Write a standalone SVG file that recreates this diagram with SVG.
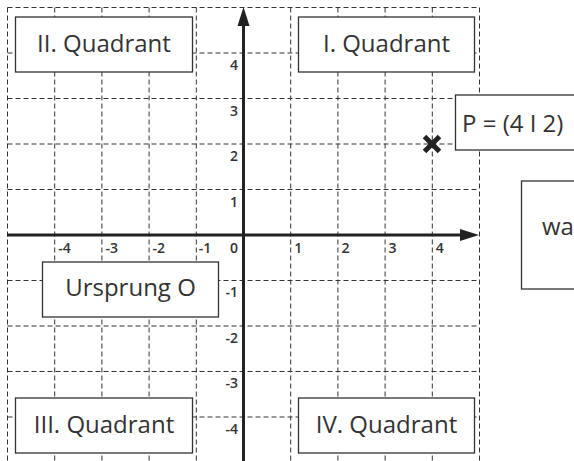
<svg xmlns="http://www.w3.org/2000/svg" width="574" height="461" viewBox="0 0 574 461">
<style>
.grid line{stroke:#333;stroke-width:1;stroke-dasharray:5,3;fill:none}
.box{fill:#fff;stroke:#333;stroke-width:1.3}
.lbl{font-family:"Open Sans","Liberation Sans",sans-serif;font-size:24px;fill:#333}
.mid{text-anchor:middle}
.tick{font-family:"Open Sans","Liberation Sans",sans-serif;font-size:14px;font-weight:600;fill:#333}
.axis{stroke:#222;stroke-width:3;fill:none}
.head{fill:#222}
</style>
<rect width="574" height="461" fill="#fff"/>
<g class="grid" id="grid">
<line x1="7.5" y1="7.5" x2="7.5" y2="461"/>
<line x1="54.7" y1="7.5" x2="54.7" y2="461"/>
<line x1="101.9" y1="7.5" x2="101.9" y2="461"/>
<line x1="149.1" y1="7.5" x2="149.1" y2="461"/>
<line x1="196.3" y1="7.5" x2="196.3" y2="461"/>
<line x1="290.7" y1="7.5" x2="290.7" y2="461"/>
<line x1="337.9" y1="7.5" x2="337.9" y2="461"/>
<line x1="385.1" y1="7.5" x2="385.1" y2="461"/>
<line x1="432.3" y1="7.5" x2="432.3" y2="461"/>
<line x1="479.5" y1="7.5" x2="479.5" y2="461"/>
<line x1="7.5" y1="7.5" x2="479.5" y2="7.5"/>
<line x1="7.5" y1="53" x2="479.5" y2="53"/>
<line x1="7.5" y1="98.5" x2="479.5" y2="98.5"/>
<line x1="7.5" y1="144" x2="479.5" y2="144"/>
<line x1="7.5" y1="189.5" x2="479.5" y2="189.5"/>
<line x1="7.5" y1="280.5" x2="479.5" y2="280.5"/>
<line x1="7.5" y1="326" x2="479.5" y2="326"/>
<line x1="7.5" y1="371.5" x2="479.5" y2="371.5"/>
<line x1="7.5" y1="417" x2="479.5" y2="417"/>
</g>
<g id="connectors">
<line class="axis" x1="243.5" y1="461" x2="243.5" y2="24"/>
<polygon class="head" points="243.5,7 237.5,26 249.5,26"/>
<line class="axis" x1="7" y1="235" x2="462" y2="235"/>
<polygon class="head" points="479,235 460,229 460,241"/>
</g>
<g id="ticks" class="tick">
<text x="238" y="70" text-anchor="end">4</text>
<text x="238" y="115.5" text-anchor="end">3</text>
<text x="238" y="161" text-anchor="end">2</text>
<text x="238" y="206.5" text-anchor="end">1</text>
<text x="238" y="297" text-anchor="end">-1</text>
<text x="238" y="342.5" text-anchor="end">-2</text>
<text x="238" y="388" text-anchor="end">-3</text>
<text x="238" y="433.5" text-anchor="end">-4</text>
<text x="58.2" y="253">-4</text>
<text x="105.4" y="253">-3</text>
<text x="152.6" y="253">-2</text>
<text x="198.8" y="253">-1</text>
<text x="238" y="253" text-anchor="end">0</text>
<text x="294.2" y="253">1</text>
<text x="341.4" y="253">2</text>
<text x="388.6" y="253">3</text>
<text x="435.8" y="253">4</text>
</g>
<g id="q2"><rect class="box" x="15.5" y="17" width="177" height="55"/><text class="lbl mid" x="104" y="52">II. Quadrant</text></g>
<g id="q1"><rect class="box" x="298.5" y="17" width="176" height="55"/><text class="lbl mid" x="386.5" y="52">I. Quadrant</text></g>
<g id="origin"><rect class="box" x="42.5" y="262" width="176" height="55"/><text class="lbl mid" x="130.5" y="296">Ursprung O</text></g>
<g id="q3"><rect class="box" x="15.5" y="398" width="177" height="55"/><text class="lbl mid" x="104" y="433">III. Quadrant</text></g>
<g id="q4"><rect class="box" x="298.5" y="398" width="176" height="55"/><text class="lbl mid" x="386.5" y="433">IV. Quadrant</text></g>
<g id="pointP">
<path d="M424.5,136.5 L439.5,151.5 M439.5,136.5 L424.5,151.5" stroke="#222" stroke-width="5" fill="none"/>
<rect class="box" x="455.5" y="95" width="140" height="55"/>
<text class="lbl" x="462" y="132">P = (4 I 2)</text>
</g>
<g id="note"><rect class="box" x="521.5" y="181" width="80" height="108"/><text class="lbl" x="542" y="235">wa</text></g>
</svg>
